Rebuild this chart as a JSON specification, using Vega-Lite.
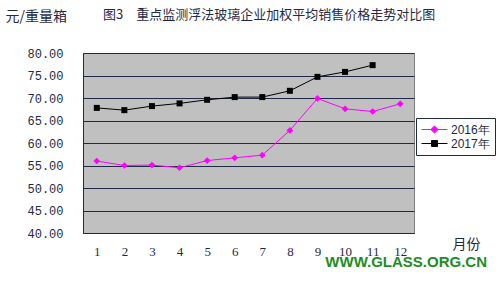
{
  "$schema": "https://vega.github.io/schema/vega-lite/v6.json",
  "width": 331,
  "height": 180,
  "autosize": {"type": "none"},
  "padding": {"left": 83, "top": 53, "right": 86, "bottom": 50},
  "background": "white",
  "title": {
    "text": "图3　重点监测浮法玻璃企业加权平均销售价格走势对比图",
    "anchor": "start",
    "frame": "group",
    "dx": 20,
    "offset": -19,
    "baseline": "middle",
    "fontSize": 13,
    "font": "Noto Sans CJK SC",
    "fontWeight": "normal",
    "color": "#1f2a44"
  },
  "config": {
    "view": {"fill": "#c0c0c0", "stroke": "#808080"},
    "axis": {
      "labelFont": "Liberation Mono",
      "labelFontSize": 12,
      "labelColor": "#1f2a44",
      "titleFont": "Noto Sans CJK SC",
      "titleFontWeight": "normal",
      "titleColor": "#1f2a44",
      "domainColor": "#1f2a44"
    },
    "legend": {"labelFont": "Liberation Sans", "labelFontSize": 12, "labelColor": "#1f2a44"}
  },
  "datasets": {
    "prices": [
      {"month": 1, "series": "2016年", "price": 56.0},
      {"month": 2, "series": "2016年", "price": 55.0},
      {"month": 3, "series": "2016年", "price": 55.1},
      {"month": 4, "series": "2016年", "price": 54.5},
      {"month": 5, "series": "2016年", "price": 56.1},
      {"month": 6, "series": "2016年", "price": 56.7},
      {"month": 7, "series": "2016年", "price": 57.3},
      {"month": 8, "series": "2016年", "price": 62.8},
      {"month": 9, "series": "2016年", "price": 69.9},
      {"month": 10, "series": "2016年", "price": 67.6},
      {"month": 11, "series": "2016年", "price": 67.0},
      {"month": 12, "series": "2016年", "price": 68.7},
      {"month": 1, "series": "2017年", "price": 67.8},
      {"month": 2, "series": "2017年", "price": 67.3},
      {"month": 3, "series": "2017年", "price": 68.2},
      {"month": 4, "series": "2017年", "price": 68.8},
      {"month": 5, "series": "2017年", "price": 69.6},
      {"month": 6, "series": "2017年", "price": 70.2},
      {"month": 7, "series": "2017年", "price": 70.2},
      {"month": 8, "series": "2017年", "price": 71.6},
      {"month": 9, "series": "2017年", "price": 74.7},
      {"month": 10, "series": "2017年", "price": 75.8},
      {"month": 11, "series": "2017年", "price": 77.3}
    ],
    "mark": [{"site": "WWW.GLASS.ORG.CN", "month": 12.5, "price": 40}]
  },
  "layer": [
    {
      "data": {"name": "prices"},
      "mark": {"type": "line", "strokeWidth": 1},
      "encoding": {
        "x": {
          "field": "month",
          "type": "quantitative",
          "scale": {"domain": [0.5, 12.5], "nice": false, "zero": false},
          "axis": {
            "values": [1, 1.5, 2, 2.5, 3, 3.5, 4, 4.5, 5, 5.5, 6, 6.5, 7, 7.5, 8, 8.5, 9, 9.5, 10, 10.5, 11, 11.5, 12],
            "tickCount": 40,
            "format": "d",
            "labelExpr": "datum.value % 1 === 0 ? datum.label : ''",
            "labelOverlap": false,
            "labelBound": false,
            "labelFlush": false,
            "ticks": true,
            "tickWidth": 1,
            "tickOpacity": 1,
            "tickColor": {"condition": {"test": "datum.value % 1 === 0", "value": "transparent"}, "value": "#1f2a44"},
            "tickSize": -5,
            "labelPadding": 17,
            "labelFont": "Liberation Serif",
            "labelFontSize": 13,
            "grid": false,
            "title": "月份",
            "titleFontSize": 14,
            "titleX": 383,
            "titleY": 11,
            "titleAlign": "center",
            "titleBaseline": "middle"
          }
        },
        "y": {
          "field": "price",
          "type": "quantitative",
          "scale": {"domain": [40, 80], "nice": false, "zero": false},
          "axis": {
            "values": [40, 45, 50, 55, 60, 65, 70, 75, 80],
            "tickCount": 20,
            "format": ".2f",
            "labelOverlap": false,
            "labelBound": false,
            "labelFlush": false,
            "ticks": false,
            "labelPadding": 20,
            "grid": true,
            "gridColor": "#1f2a44",
            "gridOpacity": 1,
            "title": "元/重量箱",
            "titleFontSize": 14,
            "titleAngle": 0,
            "titleX": -78,
            "titleY": -37,
            "titleAlign": "left",
            "titleBaseline": "middle"
          }
        },
        "color": {
          "field": "series",
          "type": "nominal",
          "scale": {"domain": ["2016年", "2017年"], "range": ["#ff00ff", "#000000"]},
          "legend": {
            "orient": "none",
            "legendX": 333,
            "legendY": 65,
            "title": null,
            "fillColor": "white",
            "strokeColor": "#1f2a44",
            "padding": 5,
            "symbolSize": 144,
            "symbolStrokeWidth": 1,
            "labelOffset": 17,
            "rowPadding": 1
          }
        }
      }
    },
    {
      "data": {"name": "prices"},
      "transform": [{"filter": "datum.month > 100"}],
      "mark": {"type": "point", "filled": true, "opacity": 1, "strokeWidth": 1},
      "encoding": {
        "x": {"field": "month", "type": "quantitative"},
        "y": {"field": "price", "type": "quantitative"},
        "color": {"field": "series", "type": "nominal"},
        "stroke": {
          "field": "series",
          "type": "nominal",
          "scale": {"domain": ["2016年", "2017年"], "range": ["#ff00ff", "#000000"]}
        },
        "shape": {
          "field": "series",
          "type": "nominal",
          "scale": {"domain": ["2016年", "2017年"], "range": ["M-1,0H3.33M1.17,-0.6L1.77,0L1.17,0.6L0.57,0Z", "M-1,0H3.33M0.67,-0.5H1.67V0.5H0.67Z"]}
        }
      }
    },
    {
      "data": {"name": "prices"},
      "transform": [{"filter": "datum.series === '2016年'"}],
      "mark": {"type": "point", "filled": true, "opacity": 1, "size": 45, "shape": "diamond"},
      "encoding": {
        "x": {"field": "month", "type": "quantitative"},
        "y": {"field": "price", "type": "quantitative"},
        "color": {"field": "series", "type": "nominal"}
      }
    },
    {
      "data": {"name": "prices"},
      "transform": [{"filter": "datum.series === '2017年'"}],
      "mark": {"type": "point", "filled": true, "opacity": 1, "size": 36, "shape": "square"},
      "encoding": {
        "x": {"field": "month", "type": "quantitative"},
        "y": {"field": "price", "type": "quantitative"},
        "color": {"field": "series", "type": "nominal"}
      }
    },
    {
      "data": {"name": "mark"},
      "mark": {"type": "text", "align": "right", "baseline": "middle", "dx": 73, "dy": 29, "font": "Liberation Sans", "fontWeight": "bold", "fontSize": 15, "color": "#1e8c1e"},
      "encoding": {
        "x": {"field": "month", "type": "quantitative"},
        "y": {"field": "price", "type": "quantitative"},
        "text": {"field": "site"}
      }
    }
  ],
  "encoding": {}
}
